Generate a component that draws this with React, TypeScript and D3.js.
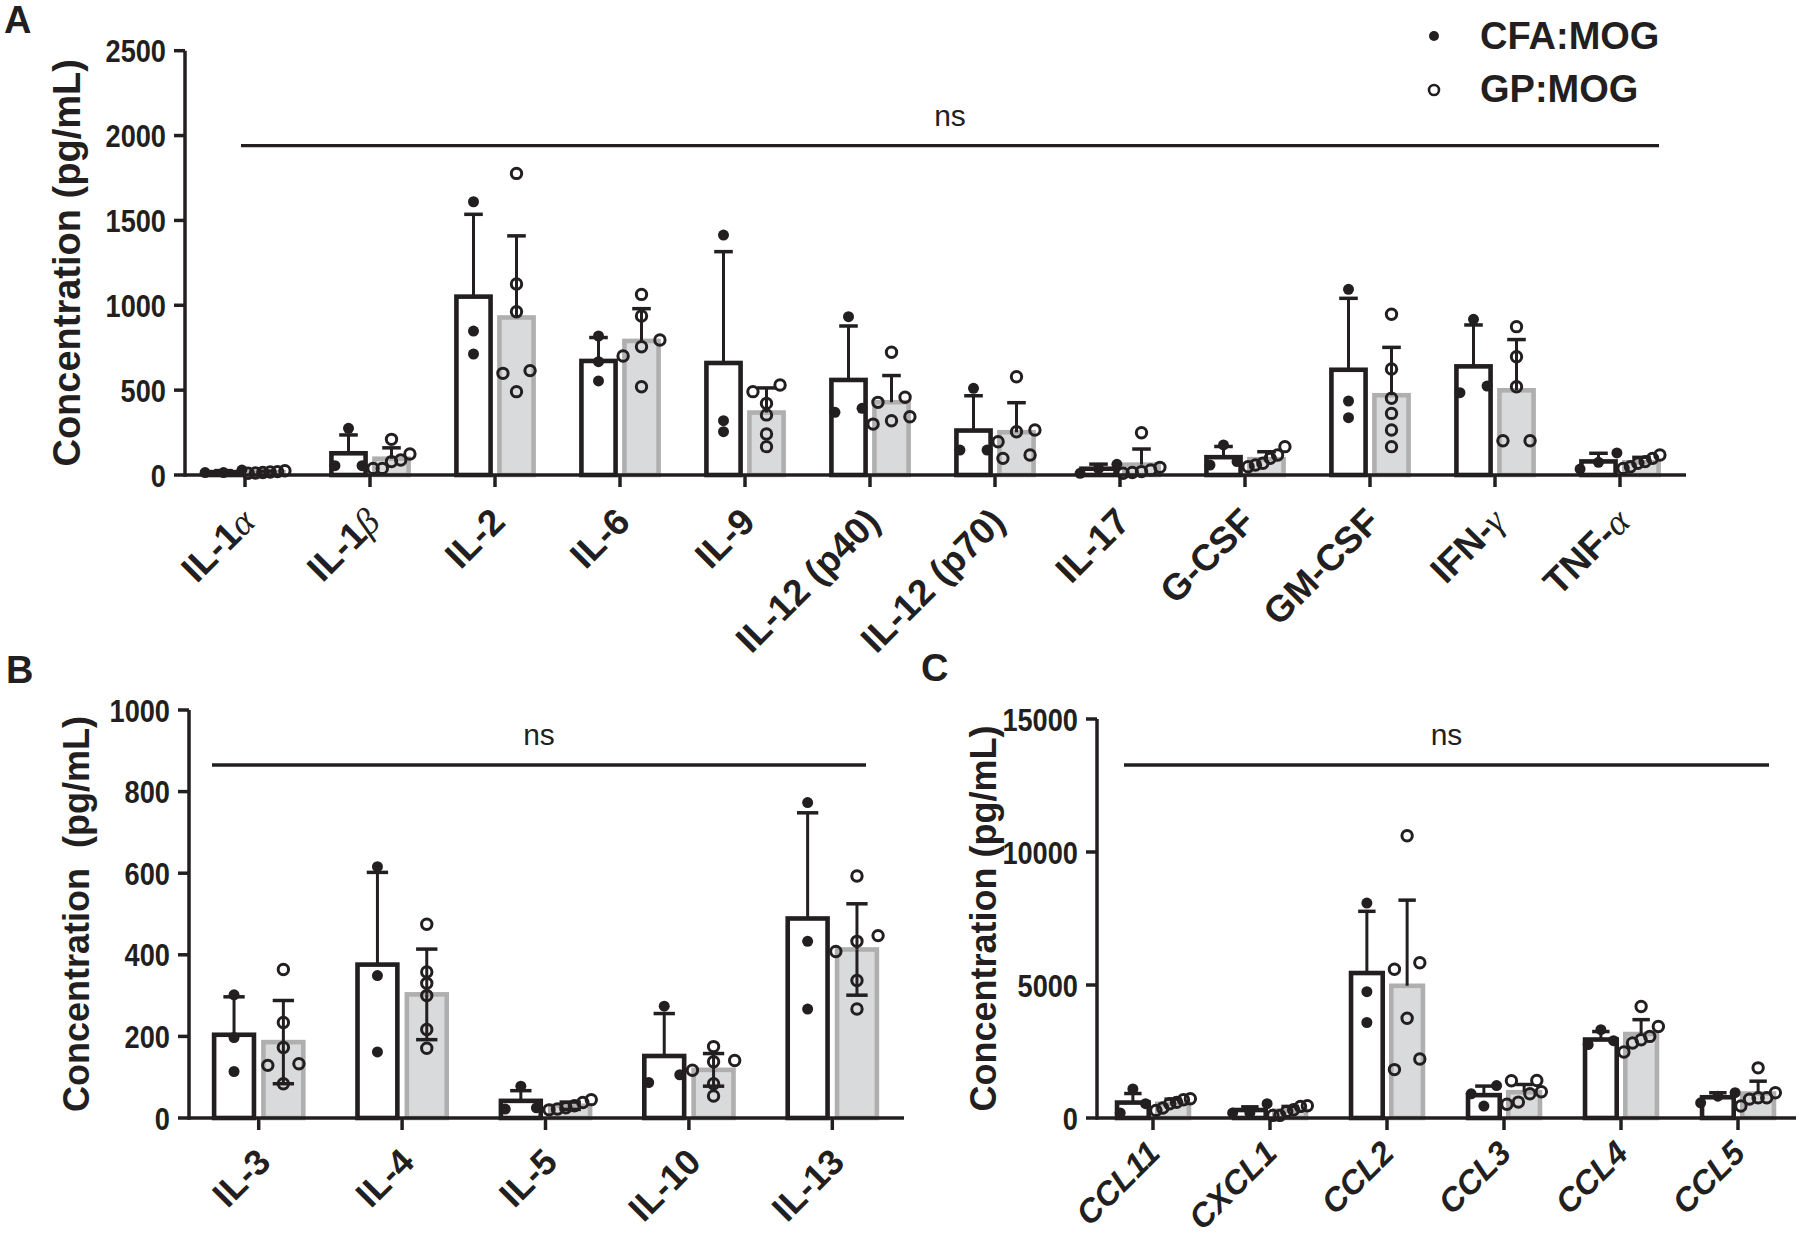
import React from "react";
import * as d3 from "d3";

// ---------- data ----------
const seriesNames = ["CFA:MOG", "GP:MOG"];

// Panel A
const catsA = ["IL-1α", "IL-1β", "IL-2", "IL-6", "IL-9", "IL-12 (p40)", "IL-12 (p70)", "IL-17", "G-CSF", "GM-CSF", "IFN-γ", "TNF-α"];
const cfaMeanA = [17, 128, 1051, 672, 660, 560, 262, 37, 105, 620, 640, 80];
const cfaSdA = [9, 108, 485, 138, 656, 318, 205, 27, 63, 421, 244, 48];
const cfaPtsA = [[14, 29, 14], [275, 55, 55], [1610, 848, 713], [819, 668, 554], [1414, 255, 320], [933, 369, 393], [511, 147, 147], [10, 63, 38], [177, 59, 79], [1094, 436, 338], [917, 485, 524], [130, 75, 35]];
const gpMeanA = [17, 96, 928, 790, 368, 429, 252, 61, 93, 470, 499, 75];
const gpSdA = [6, 64, 481, 190, 145, 157, 174, 92, 44, 282, 299, 29];
const gpPtsA = [[20, 15, 12, 25, 18, 10], [210, 124, 79, 39, 39, 88], [1777, 1125, 962, 615, 599, 491], [1064, 937, 795, 756, 701, 520], [530, 491, 422, 354, 242, 167], [723, 458, 428, 343, 320, 300], [579, 265, 255, 196, 118, 98], [249, 45, 30, 20, 15, 10], [167, 118, 98, 69, 59, 49], [947, 625, 452, 363, 265, 167], [874, 697, 520, 202, 202], [118, 98, 79, 69, 49, 39]];
const ticksA = [0, 500, 1000, 1500, 2000, 2500];

// Panel B
const catsB = ["IL-3", "IL-4", "IL-5", "IL-10", "IL-13"];
const cfaMeanB = [204, 376, 42, 152, 489];
const cfaSdB = [93, 226, 25, 104, 259];
const cfaPtsB = [[302, 197, 114], [616, 349, 162], [78, 25, 22], [274, 87, 106], [773, 433, 267]];
const gpMeanB = [186, 303, 30, 118, 413];
const gpSdB = [102, 111, 9, 40, 112];
const gpPtsB = [[364, 234, 173, 133, 129, 84], [475, 358, 330, 300, 217, 171], [45, 38, 30, 25, 22, 20], [175, 138, 141, 117, 84, 54], [593, 447, 408, 433, 337, 267]];
const ticksB = [0, 200, 400, 600, 800, 1000];

// Panel C
const catsC = ["CCL11", "CXCL1", "CCL2", "CCL3", "CCL4", "CCL5"];
const cfaMeanC = [580, 300, 5450, 860, 2950, 780];
const cfaSdC = [340, 120, 2320, 340, 300, 170];
const cfaPtsC = [[1090, 540, 190], [540, 190, 190], [8080, 4750, 3590], [1220, 910, 450], [3320, 2905, 2760], [950, 820, 570]];
const gpMeanC = [535, 275, 4970, 970, 3157, 920];
const gpSdC = [173, 159, 3220, 290, 540, 464];
const gpPtsC = [[726, 688, 587, 538, 376, 286], [463, 436, 312, 248, 98, 98], [10610, 5835, 5590, 3752, 2218, 1820], [1410, 1403, 985, 910, 598, 516], [4189, 3441, 3067, 2943, 2820, 2480], [1885, 948, 760, 760, 710, 449]];
const ticksC = [0, 5000, 10000, 15000];

// ---------- style ----------
const INK = "#231f20";
const GP_FILL = "#d9dadb";
const GP_STROKE = "#afafaf";
const FONT = "'Liberation Sans', Arial, Helvetica, sans-serif";
const GREEK = "'Liberation Serif', 'DejaVu Serif', serif";

function spread(vals: number[], y: (v: number) => number, bw: number, r: number): number[] {
  const idx = vals.map((_, i) => i).sort((a, b) => y(vals[a]) - y(vals[b]));
  const off = new Array(vals.length).fill(0);
  let cluster: number[] = [];
  const flush = () => {
    const k = cluster.length;
    if (k > 1) {
      const s = Math.min(0.7 * bw, (0.95 * bw) / (k - 1));
      const c = cluster.slice().sort((a, b) => vals[a] - vals[b]);
      c.forEach((id, j) => (off[id] = (j - (k - 1) / 2) * s));
    }
    cluster = [];
  };
  idx.forEach((id, j) => {
    if (j > 0 && Math.abs(y(vals[id]) - y(vals[idx[j - 1]])) >= 2 * r) flush();
    cluster.push(id);
  });
  flush();
  return off;
}

function LabelText({ label }: { label: string }) {
  const parts = label.split(/([αβγ])/).filter((p) => p.length);
  return (
    <>
      {parts.map((p, i) =>
        /[αβγ]/.test(p) ? (
          <tspan key={i} fontFamily={GREEK} fontWeight="normal" fontStyle="italic">
            {p}
          </tspan>
        ) : (
          <tspan key={i}>{p}</tspan>
        )
      )}
    </>
  );
}

type PanelProps = {
  cats: string[];
  cfaMean: number[];
  cfaSd: number[];
  cfaPts: number[][];
  gpMean: number[];
  gpSd: number[];
  gpPts: number[][];
  ticks: number[];
  xRange: [number, number];
  yRange: [number, number];
  axisX: number;
  axisEnd: number;
  nsY: number;
  nsX: [number, number];
  nsTextY: number;
  titleX: number;
  titleSize: number;
  title: string;
  letter: string;
  letterPos: [number, number];
  lowerWhisker: boolean;
  labelOff: [number, number];
  labelSize: number;
  labelItalic: boolean;
};

function Panel(p: PanelProps) {
  const x = d3.scaleBand<string>().domain(p.cats).range(p.xRange).paddingInner(0).paddingOuter(0);
  const y = d3.scaleLinear().domain([0, p.ticks[p.ticks.length - 1]]).range(p.yRange);
  const band = x.bandwidth();
  const bw = band * 0.31;
  const off = band * 0.172;
  const sw = 4.6;
  const capW = bw * 0.48;
  const r = 5.5;
  const y0 = y(0);
  const yTop = y(p.ticks[p.ticks.length - 1]);

  const groups = [
    { mean: p.cfaMean, sd: p.cfaSd, pts: p.cfaPts, dx: -off, fill: "#fff", stroke: INK, filled: true, lower: false },
    { mean: p.gpMean, sd: p.gpSd, pts: p.gpPts, dx: off, fill: GP_FILL, stroke: GP_STROKE, filled: false, lower: p.lowerWhisker },
  ];

  return (
    <g>
      <text x={p.letterPos[0]} y={p.letterPos[1]} fontSize={38} fontWeight="bold" fill={INK}>
        {p.letter}
      </text>
      {/* bars */}
      {groups.map((g, gi) =>
        p.cats.map((c, i) => {
          const cx = (x(c) as number) + band / 2 + g.dx;
          const yt = y(g.mean[i]);
          return (
            <rect
              key={`b${gi}-${i}`}
              x={cx - bw / 2 + sw / 2}
              y={yt}
              width={bw - sw}
              height={Math.max(0, y0 - yt)}
              fill={g.fill}
              stroke={g.stroke}
              strokeWidth={sw}
            />
          );
        })
      )}
      {/* error bars */}
      {groups.map((g, gi) =>
        p.cats.map((c, i) => {
          const cx = (x(c) as number) + band / 2 + g.dx;
          const ym = y(g.mean[i]);
          const yu = y(g.mean[i] + g.sd[i]);
          const yl = y(Math.max(0, g.mean[i] - g.sd[i]));
          return (
            <g key={`e${gi}-${i}`} stroke={INK}>
              <line x1={cx} x2={cx} y1={ym} y2={yu} strokeWidth={3} />
              <line x1={cx - capW / 2} x2={cx + capW / 2} y1={yu} y2={yu} strokeWidth={3.5} />
              {g.lower && (
                <>
                  <line x1={cx} x2={cx} y1={ym} y2={yl} strokeWidth={3} />
                  <line x1={cx - capW / 2} x2={cx + capW / 2} y1={yl} y2={yl} strokeWidth={3.5} />
                </>
              )}
            </g>
          );
        })
      )}
      {/* points */}
      {groups.map((g, gi) =>
        p.cats.map((c, i) => {
          const cx = (x(c) as number) + band / 2 + g.dx;
          const offs = spread(g.pts[i], y, bw, r);
          return g.pts[i].map((v, j) =>
            g.filled ? (
              <circle key={`p${gi}-${i}-${j}`} cx={cx + offs[j]} cy={y(v)} r={r} fill={INK} />
            ) : (
              <circle key={`p${gi}-${i}-${j}`} cx={cx + offs[j]} cy={y(v)} r={5.2} fill="none" stroke={INK} strokeWidth={3} />
            )
          );
        })
      )}
      {/* axes */}
      <line x1={p.axisX} x2={p.axisX} y1={y0 + 1.75} y2={yTop} stroke={INK} strokeWidth={3.5} />
      {p.ticks.map((t) => (
        <g key={`yt${t}`}>
          <line x1={p.axisX - 11} x2={p.axisX} y1={y(t)} y2={y(t)} stroke={INK} strokeWidth={3.5} />
          <text
            transform={`translate(${p.axisX - 19},${y(t)}) scale(0.85,1)`}
            dy="0.36em"
            textAnchor="end"
            fontSize={32}
            fontWeight="bold"
            fill={INK}
          >
            {t}
          </text>
        </g>
      ))}
      <line x1={p.axisX} x2={p.axisEnd} y1={y0} y2={y0} stroke={INK} strokeWidth={3.5} />
      {p.cats.map((c) => {
        const tx = (x(c) as number) + band / 2;
        return (
          <g key={`xt${c}`}>
            <line x1={tx} x2={tx} y1={y0} y2={y0 + 12} stroke={INK} strokeWidth={3.5} />
            <text
              transform={`translate(${tx + p.labelOff[0]},${y0 + p.labelOff[1]}) rotate(-45)`}
              textAnchor="end"
              fontSize={p.labelSize}
              fontWeight="bold"
              fontStyle={p.labelItalic ? "italic" : "normal"}
              fill={INK}
            >
              <LabelText label={c} />
            </text>
          </g>
        );
      })}
      {/* y title */}
      <text
        transform={`translate(${p.titleX},${(y0 + yTop) / 2}) rotate(-90)`}
        textAnchor="middle"
        fontSize={p.titleSize}
        fontWeight="bold"
        fill={INK}
        style={{ whiteSpace: "pre" }}
      >
        {p.title}
      </text>
      {/* ns */}
      <line x1={p.nsX[0]} x2={p.nsX[1]} y1={p.nsY} y2={p.nsY} stroke={INK} strokeWidth={3.3} />
      <text x={(p.nsX[0] + p.nsX[1]) / 2} y={p.nsTextY} textAnchor="middle" fontSize={30} fill={INK}>
        ns
      </text>
    </g>
  );
}

export default function App() {
  return (
    <svg
      width={1800}
      height={1239}
      viewBox="0 0 1800 1239"
      style={{ position: "absolute", left: 0, top: 0, background: "#fff", display: "block" }}
      fontFamily={FONT}
    >
      <rect x={0} y={0} width={1800} height={1239} fill="#fff" />
      <Panel
        cats={catsA}
        cfaMean={cfaMeanA}
        cfaSd={cfaSdA}
        cfaPts={cfaPtsA}
        gpMean={gpMeanA}
        gpSd={gpSdA}
        gpPts={gpPtsA}
        ticks={ticksA}
        xRange={[182.5, 1682.5]}
        yRange={[475, 50.7]}
        axisX={185}
        axisEnd={1686}
        nsY={145.7}
        nsX={[241, 1659]}
        nsTextY={126}
        titleX={80}
        titleSize={38}
        title="Concentration (pg/mL)"
        letter="A"
        letterPos={[4, 33]}
        lowerWhisker={false}
        labelOff={[12, 49]}
        labelSize={37}
        labelItalic={false}
      />
      <Panel
        cats={catsB}
        cfaMean={cfaMeanB}
        cfaSd={cfaSdB}
        cfaPts={cfaPtsB}
        gpMean={gpMeanB}
        gpSd={gpSdB}
        gpPts={gpPtsB}
        ticks={ticksB}
        xRange={[187, 904]}
        yRange={[1118, 710]}
        axisX={189}
        axisEnd={904}
        nsY={765}
        nsX={[212, 866]}
        nsTextY={745}
        titleX={89}
        titleSize={36}
        title="Concentration  (pg/mL)"
        letter="B"
        letterPos={[6, 683]}
        lowerWhisker={true}
        labelOff={[14, 46]}
        labelSize={36}
        labelItalic={false}
      />
      <Panel
        cats={catsC}
        cfaMean={cfaMeanC}
        cfaSd={cfaSdC}
        cfaPts={cfaPtsC}
        gpMean={gpMeanC}
        gpSd={gpSdC}
        gpPts={gpPtsC}
        ticks={ticksC}
        xRange={[1094.5, 1796.5]}
        yRange={[1118, 719]}
        axisX={1097}
        axisEnd={1796}
        nsY={765}
        nsX={[1124, 1769]}
        nsTextY={745}
        titleX={996}
        titleSize={36}
        title="Concentration (pg/mL)"
        letter="C"
        letterPos={[921, 681]}
        lowerWhisker={false}
        labelOff={[9, 37]}
        labelSize={33}
        labelItalic={true}
      />
      {/* legend */}
      <circle cx={1434} cy={36} r={5} fill={INK} />
      <text x={1480} y={49} fontSize={38} fontWeight="bold" fill={INK}>
        {seriesNames[0]}
      </text>
      <circle cx={1434} cy={90} r={5} fill="none" stroke={INK} strokeWidth={2.6} />
      <text x={1480} y={102} fontSize={38} fontWeight="bold" fill={INK}>
        {seriesNames[1]}
      </text>
    </svg>
  );
}
